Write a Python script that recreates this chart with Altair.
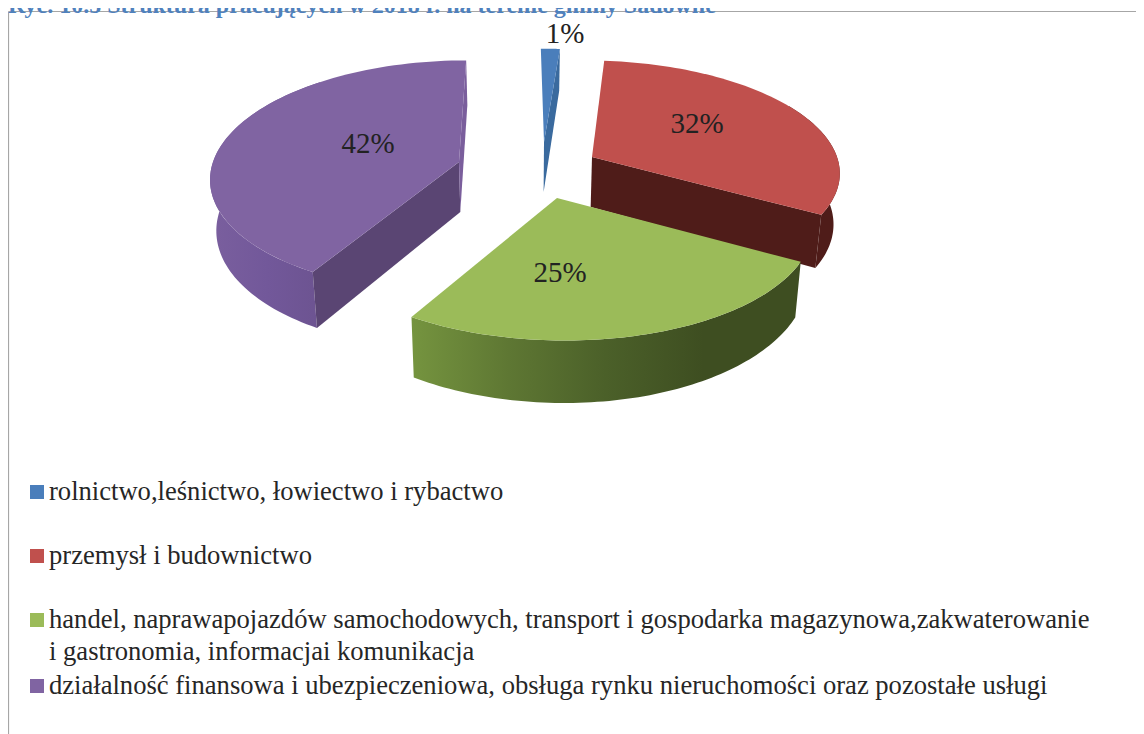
import numpy as np
import pandas as pd
import altair as alt

# --- values ---
categories = [
    "rolnictwo,leśnictwo, łowiectwo i rybactwo",
    "przemysł i budownictwo",
    "handel, naprawapojazdów samochodowych, transport i gospodarka magazynowa,zakwaterowanie",
    "działalność finansowa i ubezpieczeniowa, obsługa rynku nieruchomości oraz pozostałe usługi",
]
shares = [1.4, 32.0, 25.0, 41.6]
share_labels = ["1%", "32%", "25%", "42%"]
top_colors = ["#4a7ebb", "#c0504d", "#9bbb59", "#8064a2"]
title_text = "Ryc. 10.5 Struktura pracujących w 2018 r. na terenie gminy Sadowne"
legend_extra_line = "i gastronomia, informacjai komunikacja"

# --- drawing layout (reference pixel space) ---
W, H = 1128, 726
VIEW_X = 525
# apex x, apex y, a, b, k
SLICE_GEOM = [
    (544, 142, 260, 112, 0.20),
    (592, 157, 245, 108, 0.118),
    (557, 198, 250, 114, 0.20),
    (459, 162, 246, 114, 0.122),
]
DEPTH = 50
LEAN = 0.02

xs = alt.Scale(domain=[8, 8 + W], range=[0, W])
ys = alt.Scale(domain=[8, 8 + H], range=[0, H])


def project(geom, r, deg, drop=False):
    ax, ay, a, b, k = geom
    t = np.radians(deg)
    X, Y = r * np.sin(t), -r * np.cos(t)
    s = 1 / (1 - k * Y)
    px = VIEW_X + (ax - VIEW_X + a * X) * s
    py = ay + b * Y * s
    if drop:
        py = py + DEPTH * s
        px = px + (VIEW_X - px) * LEAN
    return px, py


def poly(points, fill):
    df = pd.DataFrame(points, columns=["x", "y"])
    df["i"] = range(len(df))
    return alt.Chart(df).mark_line(fill=fill, strokeWidth=0, clip=False).encode(
        x=alt.X("x:Q", scale=xs, axis=None),
        y=alt.Y("y:Q", scale=ys, axis=None),
        order="i:Q",
    )


def top_face(g, a0, a1):
    pts = [project(g, 0, 0)]
    pts += [project(g, 1, d) for d in np.linspace(a0, a1, 80)]
    return pts


def rim_wall(g, a0, a1):
    ang = np.linspace(a0, a1, 80)
    return [project(g, 1, d) for d in ang] + [project(g, 1, d, True) for d in ang[::-1]]


def radial_wall(g, ang):
    return [project(g, 0, 0), project(g, 1, ang), project(g, 1, ang, True), project(g, 0, 0, True)]


def grad(stops):
    return alt.LinearGradient(
        gradient="linear", x1=0, y1=0, x2=1, y2=0,
        stops=[alt.GradientStop(offset=o, color=c) for o, c in stops],
    )


edges = np.concatenate([[0], np.cumsum(shares)]) * 3.6
G = SLICE_GEOM
layers = []

# border
border = pd.DataFrame({"x": [8.5, 8.5], "x2": [8.5, 1144], "y": [11.5, 11.5], "y2": [734, 11.5]})
layers.append(alt.Chart(border).mark_rule(color="#a6a6a6", strokeWidth=1.2).encode(
    x=alt.X("x:Q", scale=xs, axis=None), x2="x2:Q",
    y=alt.Y("y:Q", scale=ys, axis=None), y2="y2:Q"))

# purple
layers.append(poly(rim_wall(G[3], edges[3], 320), grad([(0, "#7a5f9e"), (0.5, "#72589a"), (1, "#6c5390")])))
layers.append(poly(radial_wall(G[3], edges[3]), "#5a4573"))
layers.append(poly(radial_wall(G[3], edges[4]), "#7a5e9c"))
layers.append(poly(top_face(G[3], edges[3], edges[4]), top_colors[3]))

# blue
layers.append(poly(radial_wall(G[0], edges[1]), "#3a6a9e"))
layers.append(poly(top_face(G[0], edges[0], edges[1]), top_colors[0]))

# red
layers.append(poly(rim_wall(G[1], 60, edges[2]), "#4f1c19"))
layers.append(poly(radial_wall(G[1], edges[2]), "#4f1c19"))
layers.append(poly(top_face(G[1], edges[1], edges[2]), top_colors[1]))

# green
layers.append(poly(rim_wall(G[2], edges[2], edges[3]),
                   grad([(0, "#75943f"), (0.25, "#5e7733"), (0.5, "#4b6029"), (0.75, "#3e4e21"), (1, "#3e4e21")])))
layers.append(poly(top_face(G[2], edges[2], edges[3]), top_colors[2]))

# data labels
lab = pd.DataFrame({"t": share_labels, "x": [565, 697, 560, 368], "y": [34, 124, 273, 144]})
layers.append(alt.Chart(lab).mark_text(font="Liberation Serif", fontSize=29, color="#222222", baseline="middle").encode(
    x=alt.X("x:Q", scale=xs, axis=None), y=alt.Y("y:Q", scale=ys, axis=None), text="t:N"))

# legend
leg_y = [492, 556, 620, 686]
sw = pd.DataFrame({"x": [37] * 4, "y": leg_y, "c": top_colors})
layers.append(alt.Chart(sw).mark_square(size=196, opacity=1).encode(
    x=alt.X("x:Q", scale=xs, axis=None), y=alt.Y("y:Q", scale=ys, axis=None),
    fill=alt.Fill("c:N", scale=None), stroke=alt.value(None)))
leg = pd.DataFrame({"t": categories + [legend_extra_line],
                    "x": [49] * 5, "y": leg_y + [652]})
layers.append(alt.Chart(leg).mark_text(font="Liberation Serif", fontSize=26.6, color="#262626", align="left", baseline="middle").encode(
    x=alt.X("x:Q", scale=xs, axis=None), y=alt.Y("y:Q", scale=ys, axis=None), text="t:N"))

# heading: the page margin clips it at y = 8, so it sits a little lower than in the reference
ttl = pd.DataFrame({"t": [title_text], "x": [8], "y": [13]})
layers.append(alt.Chart(ttl).mark_text(font="Liberation Serif", fontSize=24, fontWeight="bold", color="#4f81bd", align="left", baseline="alphabetic").encode(
    x=alt.X("x:Q", scale=xs, axis=None), y=alt.Y("y:Q", scale=ys, axis=None), text="t:N"))

chart = alt.layer(*layers).properties(
    width=W, height=H, padding=0,
    autosize=alt.AutoSizeParams(type="none"),
).configure_view(stroke=None)

chart.save("out.html", embed_options={"renderer": "svg", "actions": False})
